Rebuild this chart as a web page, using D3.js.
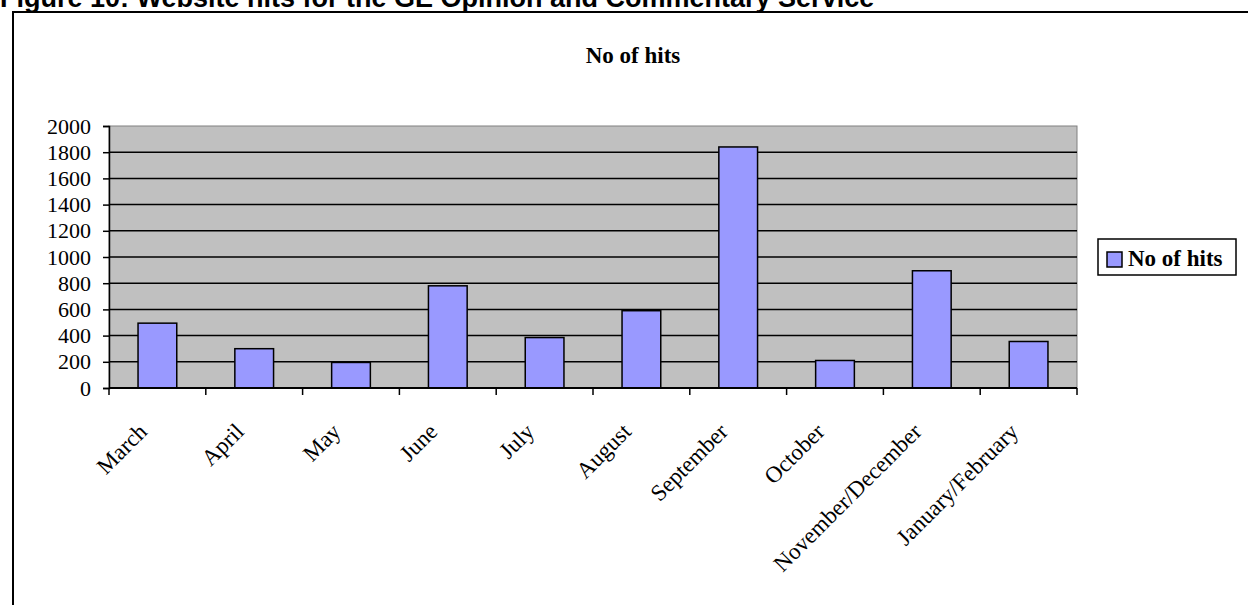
<!DOCTYPE html>
<html>
<head>
<meta charset="utf-8">
<script src="https://cdn.jsdelivr.net/npm/d3@7"></script>
<style>
body { margin: 0; background: #fff; }
svg { display: block; }
</style>
</head>
<body>
<script>
var months = ["March","April","May","June","July","August","September","October","November/December","January/February"];
var hits = [495,300,195,780,385,590,1840,210,895,355];
var yTicks = [0,200,400,600,800,1000,1200,1400,1600,1800,2000];

var width = 1248;
var height = 605;

var svg = d3.select("body")
.append("svg")
.attr("width",width)
.attr("height",height);

var plot = {left:109,right:1077,top:126,bottom:388};
var serif = "Liberation Serif, Times New Roman, serif";

// chart frame (runs off the right and bottom edges)
svg.append("rect")
.attr("x",13)
.attr("y",12)
.attr("width",1300)
.attr("height",700)
.attr("fill","#fff")
.attr("stroke","#000")
.attr("stroke-width",2);

// figure caption, cut off at the top like the scan
svg.append("text")
.attr("x",0)
.attr("y",7)
.attr("font-family","Liberation Sans, Arial, sans-serif")
.attr("font-weight","bold")
.attr("font-size","27px")
.text("Figure 10: Website hits for the GE Opinion and Commentary Service");

var xScale = d3.scaleBand()
.domain(months)
.range([plot.left,plot.right])
.paddingInner(0.6)
.paddingOuter(0.3);

var yScale = d3.scaleLinear()
.domain([0,2000])
.range([plot.bottom,plot.top]);

// grey plot area
svg.append("rect")
.attr("x",plot.left)
.attr("y",plot.top)
.attr("width",plot.right - plot.left)
.attr("height",plot.bottom - plot.top)
.attr("fill","#c0c0c0")
.attr("stroke","#808080")
.attr("stroke-width",1);

// gridlines
svg.selectAll(".grid")
.data(yTicks.filter(function(d){ return d > 0 && d < 2000; }))
.enter()
.append("line")
.attr("x1",plot.left)
.attr("x2",plot.right)
.attr("y1",function(d){ return yScale(d); })
.attr("y2",function(d){ return yScale(d); })
.attr("stroke","#000")
.attr("stroke-width",1.5);

// bars
svg.selectAll(".bar")
.data(hits)
.enter()
.append("rect")
.attr("x",function(d,i){ return xScale(months[i]); })
.attr("y",function(d){ return yScale(d); })
.attr("width",xScale.bandwidth())
.attr("height",function(d){ return yScale(0) - yScale(d); })
.attr("fill","#9999ff")
.attr("stroke","#000")
.attr("stroke-width",1.5);

// y axis
var yAxis = d3.axisLeft(yScale)
.tickValues(yTicks)
.tickFormat(d3.format("d"))
.tickSize(6)
.tickPadding(12);

var gy = svg.append("g")
.attr("transform","translate(" + plot.left + ",0)")
.call(yAxis);
gy.select(".domain").attr("stroke","#000").attr("stroke-width",1.5);
gy.selectAll(".tick line").attr("stroke","#000").attr("stroke-width",1.5);
gy.selectAll(".tick text")
.attr("font-family",serif)
.attr("font-size","22px")
.attr("fill","#000");

// x axis with ticks between categories
var step = xScale.step();
var boundaries = d3.range(months.length + 1).map(function(i){ return plot.left + i * step; });

svg.append("line")
.attr("x1",plot.left)
.attr("x2",plot.right)
.attr("y1",plot.bottom)
.attr("y2",plot.bottom)
.attr("stroke","#000")
.attr("stroke-width",2);

svg.selectAll(".xtick")
.data(boundaries)
.enter()
.append("line")
.attr("x1",function(d){ return d; })
.attr("x2",function(d){ return d; })
.attr("y1",plot.bottom)
.attr("y2",plot.bottom + 7)
.attr("stroke","#000")
.attr("stroke-width",1.5);

svg.selectAll(".xlabel")
.data(months)
.enter()
.append("text")
.attr("font-family",serif)
.attr("font-size","23px")
.attr("text-anchor","end")
.attr("transform",function(d){
	var cx = xScale(d) + xScale.bandwidth() / 2 - 9;
	return "translate(" + cx + "," + (plot.bottom + 45) + ") rotate(-45)";
})
.text(function(d){ return d; });

// chart title
svg.append("text")
.attr("x",633)
.attr("y",63)
.attr("text-anchor","middle")
.attr("font-family",serif)
.attr("font-weight","bold")
.attr("font-size","23px")
.text("No of hits");

// legend
var legend = svg.append("g");
legend.append("rect")
.attr("x",1098)
.attr("y",239)
.attr("width",138)
.attr("height",36)
.attr("fill","#fff")
.attr("stroke","#000")
.attr("stroke-width",1.5);
legend.append("rect")
.attr("x",1107)
.attr("y",252)
.attr("width",15)
.attr("height",15)
.attr("fill","#9999ff")
.attr("stroke","#000")
.attr("stroke-width",1.5);
legend.append("text")
.attr("x",1128)
.attr("y",266)
.attr("font-family",serif)
.attr("font-weight","bold")
.attr("font-size","23px")
.text("No of hits");
</script>
</body>
</html>
